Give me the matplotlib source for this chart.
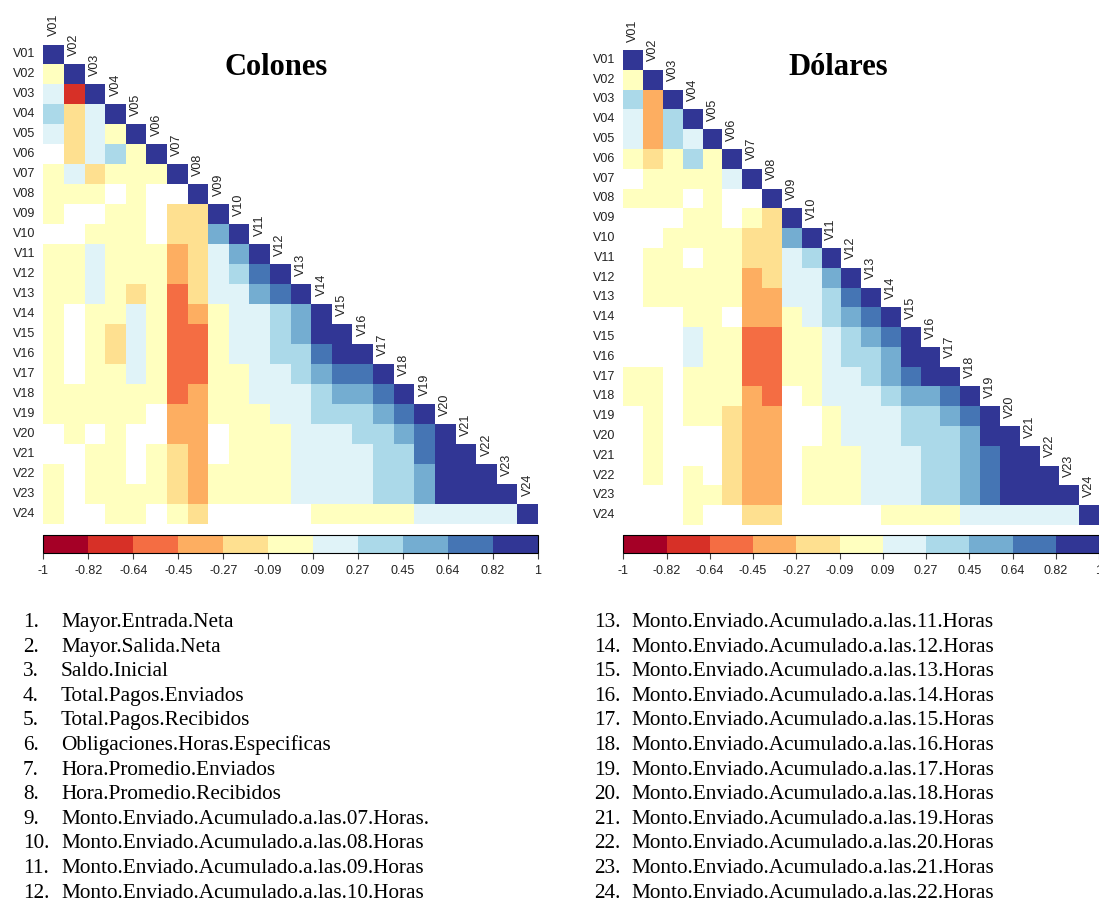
import numpy as np
import matplotlib
matplotlib.use('Agg')
import matplotlib.pyplot as plt
from matplotlib.colors import ListedColormap, BoundaryNorm
from matplotlib.cm import ScalarMappable

na = np.nan

var_names = ['V%02d' % i for i in range(1, 25)]

# lower triangle of the correlation matrix, blank = not significant
colones = [
    [1],
    [0.0, 1],
    [0.18, -0.73, 1],
    [0.36, -0.18, 0.18, 1],
    [0.18, -0.18, 0.18, 0.0, 1],
    [na, -0.18, 0.18, 0.36, 0.0, 1],
    [0.0, 0.18, -0.18, 0.0, 0.0, 0.0, 1],
    [0.0, 0.0, 0.0, na, 0.0, na, na, 1],
    [0.0, na, na, 0.0, 0.0, na, -0.18, -0.18, 1],
    [na, na, 0.0, 0.0, 0.0, na, -0.18, -0.18, 0.55, 1],
    [0.0, 0.0, 0.18, 0.0, 0.0, 0.0, -0.36, -0.18, 0.18, 0.55, 1],
    [0.0, 0.0, 0.18, 0.0, 0.0, 0.0, -0.36, -0.18, 0.18, 0.36, 0.73, 1],
    [0.0, 0.0, 0.18, 0.0, -0.18, 0.0, -0.55, -0.18, 0.18, 0.18, 0.55, 0.73, 1],
    [0.0, na, 0.0, 0.0, 0.18, 0.0, -0.55, -0.36, 0.0, 0.18, 0.18, 0.36, 0.55, 1],
    [0.0, na, 0.0, -0.18, 0.18, 0.0, -0.55, -0.55, 0.0, 0.18, 0.18, 0.36, 0.55, 0.91, 1],
    [0.0, na, 0.0, -0.18, 0.18, 0.0, -0.55, -0.55, 0.0, 0.18, 0.18, 0.36, 0.36, 0.73, 0.91, 1],
    [0.0, na, 0.0, 0.0, 0.18, 0.0, -0.55, -0.55, 0.0, 0.0, 0.18, 0.18, 0.36, 0.55, 0.73, 0.73, 1],
    [0.0, 0.0, 0.0, 0.0, 0.0, 0.0, -0.55, -0.36, 0.0, 0.0, 0.18, 0.18, 0.18, 0.36, 0.55, 0.55, 0.73, 1],
    [0.0, 0.0, 0.0, 0.0, 0.0, na, -0.36, -0.36, 0.0, 0.0, 0.0, 0.18, 0.18, 0.36, 0.36, 0.36, 0.55, 0.73, 1],
    [na, 0.0, na, 0.0, na, na, -0.36, -0.36, na, 0.0, 0.0, 0.0, 0.18, 0.18, 0.18, 0.36, 0.36, 0.55, 0.73, 1],
    [na, na, 0.0, 0.0, na, 0.0, -0.18, -0.36, na, 0.0, 0.0, 0.0, 0.18, 0.18, 0.18, 0.18, 0.36, 0.36, 0.73, 0.91, 1],
    [0.0, na, 0.0, 0.0, na, 0.0, -0.18, -0.36, 0.0, 0.0, 0.0, 0.0, 0.18, 0.18, 0.18, 0.18, 0.36, 0.36, 0.55, 0.91, 0.91, 1],
    [0.0, na, 0.0, 0.0, 0.0, 0.0, -0.18, -0.36, 0.0, 0.0, 0.0, 0.0, 0.18, 0.18, 0.18, 0.18, 0.36, 0.36, 0.55, 0.91, 0.91, 0.91, 1],
    [0.0, na, na, 0.0, 0.0, na, 0.0, -0.18, na, na, na, na, na, 0.0, 0.0, 0.0, 0.0, 0.0, 0.18, 0.18, 0.18, 0.18, 0.18, 1],
]

dolares = [
    [1],
    [0.0, 1],
    [0.36, -0.36, 1],
    [0.18, -0.36, 0.36, 1],
    [0.18, -0.36, 0.36, 0.18, 1],
    [0.0, -0.18, 0.0, 0.36, 0.0, 1],
    [na, 0.0, 0.0, 0.0, 0.0, 0.18, 1],
    [0.0, 0.0, 0.0, na, 0.0, na, na, 1],
    [na, na, na, 0.0, 0.0, na, 0.0, -0.18, 1],
    [na, na, 0.0, 0.0, 0.0, 0.0, -0.18, -0.18, 0.55, 1],
    [na, 0.0, 0.0, na, 0.0, 0.0, -0.18, -0.18, 0.18, 0.36, 1],
    [na, 0.0, 0.0, 0.0, 0.0, 0.0, -0.36, -0.18, 0.18, 0.18, 0.55, 1],
    [na, 0.0, 0.0, 0.0, 0.0, 0.0, -0.36, -0.36, 0.18, 0.18, 0.36, 0.73, 1],
    [na, na, na, 0.0, 0.0, na, -0.36, -0.36, 0.0, 0.18, 0.36, 0.55, 0.73, 1],
    [na, na, na, 0.18, 0.0, 0.0, -0.55, -0.55, 0.0, 0.0, 0.18, 0.36, 0.55, 0.73, 1],
    [na, na, na, 0.18, 0.0, 0.0, -0.55, -0.55, 0.0, 0.0, 0.18, 0.36, 0.36, 0.55, 0.91, 1],
    [0.0, 0.0, na, 0.0, 0.0, 0.0, -0.55, -0.55, 0.0, 0.0, 0.18, 0.18, 0.36, 0.55, 0.73, 0.91, 1],
    [0.0, 0.0, na, 0.0, 0.0, 0.0, -0.36, -0.55, na, 0.0, 0.18, 0.18, 0.18, 0.36, 0.55, 0.55, 0.73, 1],
    [na, 0.0, na, 0.0, 0.0, -0.18, -0.36, -0.36, na, na, 0.0, 0.18, 0.18, 0.18, 0.36, 0.36, 0.55, 0.73, 1],
    [na, 0.0, na, na, na, -0.18, -0.36, -0.36, na, na, 0.0, 0.18, 0.18, 0.18, 0.36, 0.36, 0.36, 0.55, 0.91, 1],
    [na, 0.0, na, na, na, -0.18, -0.36, -0.36, na, 0.0, 0.0, 0.0, 0.18, 0.18, 0.18, 0.36, 0.36, 0.55, 0.73, 0.91, 1],
    [na, 0.0, na, 0.0, na, -0.18, -0.36, -0.36, na, 0.0, 0.0, 0.0, 0.18, 0.18, 0.18, 0.36, 0.36, 0.55, 0.73, 0.91, 0.91, 1],
    [na, na, na, 0.0, 0.0, -0.18, -0.36, -0.36, na, 0.0, 0.0, 0.0, 0.18, 0.18, 0.18, 0.36, 0.36, 0.55, 0.73, 0.91, 0.91, 0.91, 1],
    [na, na, na, 0.0, na, na, -0.18, -0.18, na, na, na, na, na, 0.0, 0.0, 0.0, 0.0, 0.18, 0.18, 0.18, 0.18, 0.18, 0.18, 1],
]

descripciones = [
    'Mayor.Entrada.Neta',
    'Mayor.Salida.Neta',
    'Saldo.Inicial',
    'Total.Pagos.Enviados',
    'Total.Pagos.Recibidos',
    'Obligaciones.Horas.Especificas',
    'Hora.Promedio.Enviados',
    'Hora.Promedio.Recibidos',
    'Monto.Enviado.Acumulado.a.las.07.Horas.',
    'Monto.Enviado.Acumulado.a.las.08.Horas',
    'Monto.Enviado.Acumulado.a.las.09.Horas',
    'Monto.Enviado.Acumulado.a.las.10.Horas',
    'Monto.Enviado.Acumulado.a.las.11.Horas',
    'Monto.Enviado.Acumulado.a.las.12.Horas',
    'Monto.Enviado.Acumulado.a.las.13.Horas',
    'Monto.Enviado.Acumulado.a.las.14.Horas',
    'Monto.Enviado.Acumulado.a.las.15.Horas',
    'Monto.Enviado.Acumulado.a.las.16.Horas',
    'Monto.Enviado.Acumulado.a.las.17.Horas',
    'Monto.Enviado.Acumulado.a.las.18.Horas',
    'Monto.Enviado.Acumulado.a.las.19.Horas',
    'Monto.Enviado.Acumulado.a.las.20.Horas',
    'Monto.Enviado.Acumulado.a.las.21.Horas',
    'Monto.Enviado.Acumulado.a.las.22.Horas',
]

W, H = 1099, 901
colores = ['#a50026', '#d73027', '#f46d43', '#fdae61', '#fee090', '#ffffbf',
           '#e0f3f8', '#abd9e9', '#74add1', '#4575b4', '#313695']
cmap = ListedColormap(colores)
cmap.set_over(colores[-1])
cmap.set_under(colores[0])
cmap.set_bad('white')
bounds = np.linspace(-1, 1, 12)
norm = BoundaryNorm(bounds, cmap.N)

sans = 'Liberation Sans'
serif = 'Liberation Serif'


def box(x0, y0, x1, y1):
    # pixel box (top-left origin) -> figure fraction rect
    return [x0 / W, 1 - y1 / H, (x1 - x0) / W, (y1 - y0) / H]


def lower_matrix(rows):
    n = len(rows)
    m = np.full((n, n), np.nan)
    for i, r in enumerate(rows):
        m[i, :len(r)] = r
    return m


def panel(rows, grid, cbar, title, title_x):
    m = lower_matrix(rows)
    n = m.shape[0]
    ax = fig.add_axes(box(*grid))
    ax.pcolormesh(np.arange(n + 1), np.arange(n + 1), np.ma.masked_invalid(m),
                  cmap=cmap, norm=norm)
    ax.set_xlim(0, n)
    ax.set_ylim(n, 0)
    ax.axis('off')
    for i, name in enumerate(var_names):
        ax.text(-0.4, i + 0.5, name, ha='right', va='center', fontsize=9,
                family=sans, color='#222222')
        ax.text(i + 0.5, i - 0.42, name, ha='center', va='bottom', rotation=90,
                fontsize=9, family=sans, color='#222222')

    cax = fig.add_axes(box(*cbar))
    cb = fig.colorbar(ScalarMappable(norm=norm, cmap=cmap), cax=cax,
                      orientation='horizontal', ticks=bounds)
    cb.set_ticklabels(['%g' % round(b, 2) for b in bounds])
    cb.outline.set_linewidth(0.8)
    cax.tick_params(length=4, width=0.8, color='#444444', pad=5,
                    labelsize=9, labelcolor='#222222')
    for lab in cax.get_xticklabels():
        lab.set_family(sans)

    fig.text(title_x / W, 1 - 75 / H, title, ha='center', va='baseline',
             fontsize=22, fontweight='bold', family=serif)


fig = plt.figure(figsize=(W / 100, H / 100), dpi=100)

panel(colones, (43.3, 44.5, 538, 524), (43.3, 535, 538, 553), 'Colones', 276)
panel(dolares, (623.3, 50, 1099, 525), (623.3, 535, 1099, 553), 'Dólares', 838)

# numbered list of variable names
for k, desc in enumerate(descripciones):
    col, row = divmod(k, 12)
    y = 1 - (627 + row * 24.6) / H
    xn = 23 if col == 0 else 594
    xt = 61 if col == 0 else 631
    fig.text(xn / W, y, '%d.' % (k + 1), ha='left', va='baseline',
             fontsize=15.3, family=serif)
    fig.text(xt / W, y, desc, ha='left', va='baseline', fontsize=15.3, family=serif)

plt.savefig('out.png', dpi=100)
plt.close()
